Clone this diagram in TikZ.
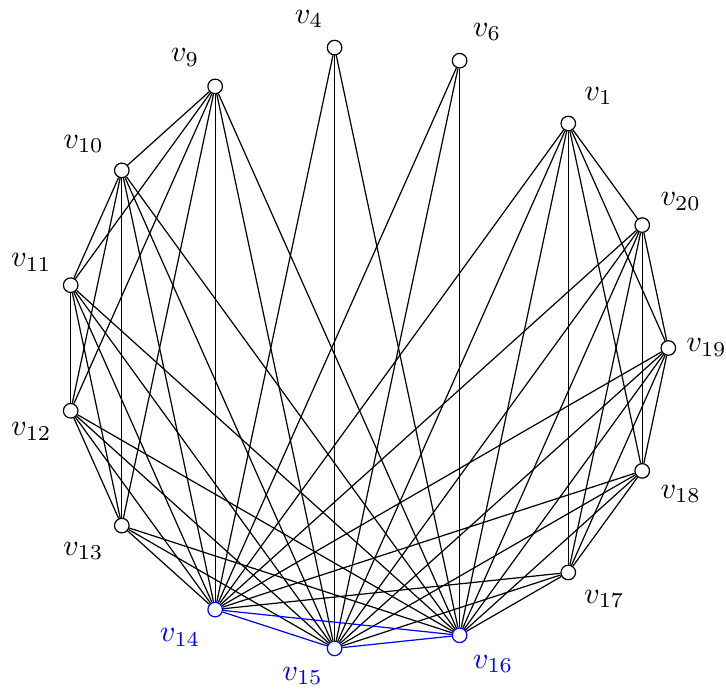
\documentclass[tikz,border=0pt]{standalone}
\begin{document}
\begin{tikzpicture}[x=0.3296pt,y=-0.3296pt,
  vtx/.style={circle,draw,fill=white,minimum size=4.8pt,inner sep=0pt},
  hub/.style={vtx,draw=blue},
  lab/.style={inner sep=0pt},
  hlab/.style={lab,text=blue},
  edge/.style={black},
  hedge/.style={blue}]
\useasboundingbox (0,0) rectangle (726,692);
\node[vtx] (v19) at (668.3,348.0) {};
\node[vtx] (v20) at (642.2,225.1) {};
\node[vtx] (v1)  at (568.3,123.5) {};
\node[vtx] (v6)  at (459.6,60.7) {};
\node[vtx] (v4)  at (334.6,47.6) {};
\node[vtx] (v9)  at (215.15,86.4) {};
\node[vtx] (v10) at (121.8,170.4) {};
\node[vtx] (v11) at (70.7,285.2) {};
\node[vtx] (v12) at (70.7,410.8) {};
\node[vtx] (v13) at (121.8,525.6) {};
\node[hub] (v14) at (215.15,609.6) {};
\node[hub] (v15) at (334.6,648.4) {};
\node[hub] (v16) at (459.6,635.3) {};
\node[vtx] (v17) at (568.3,572.5) {};
\node[vtx] (v18) at (642.2,470.9) {};
\node[lab] (l4)  at (309,19) {$v_{4}$};
\node[lab] (l9)  at (185,57.5) {$v_{9}$};
\node[lab] (l10) at (83.5,144) {$v_{10}$};
\node[lab] (l6)  at (487,32) {$v_{6}$};
\node[lab] (l1)  at (598.5,96) {$v_{1}$};
\node[lab] (l20) at (680.7,201.7) {$v_{20}$};
\node[lab] (l19) at (706.5,347.5) {$v_{19}$};
\node[lab] (l11) at (31.3,262.5) {$v_{11}$};
\node[lab] (l12) at (31.3,431.5) {$v_{12}$};
\node[lab] (l13) at (83.3,551) {$v_{13}$};
\node[hlab] (l14) at (180,637.5) {$v_{14}$};
\node[hlab] (l15) at (302.5,676) {$v_{15}$};
\node[hlab] (l16) at (493,664) {$v_{16}$};
\node[lab] (l17) at (604.3,599) {$v_{17}$};
\node[lab] (l18) at (680.7,494) {$v_{18}$};
% hubs to all others
\foreach \h in {v14,v15,v16}
  \foreach \o in {v1,v4,v6,v9,v10,v11,v12,v13,v17,v18,v19,v20}
    \draw[edge] (\h) -- (\o);
% left clique
\foreach \a/\b in {v9/v10,v9/v11,v9/v12,v9/v13,v10/v11,v10/v12,v10/v13,v11/v12,v11/v13,v12/v13}
  \draw[edge] (\a) -- (\b);
% right clique
\foreach \a/\b in {v1/v20,v1/v19,v1/v18,v1/v17,v20/v19,v20/v18,v20/v17,v19/v18,v19/v17,v18/v17}
  \draw[edge] (\a) -- (\b);
% blue triangle
\draw[hedge] (v14) -- (v15);
\draw[hedge] (v15) -- (v16);
\draw[hedge] (v14) -- (v16);
\end{tikzpicture}
\end{document}
